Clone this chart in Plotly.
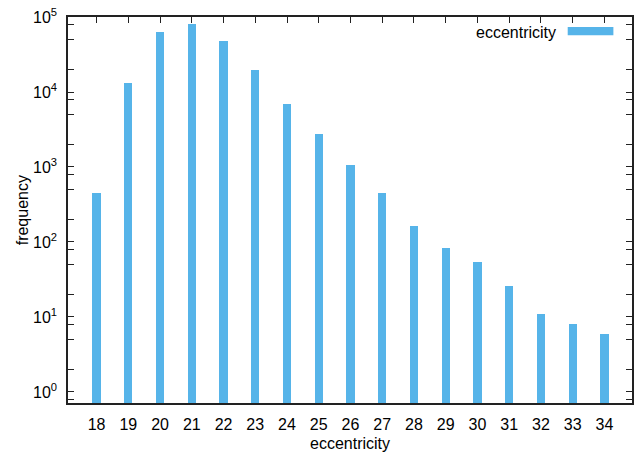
import plotly.graph_objects as go

categories = list(range(18, 35))
frequency = [450, 13300, 63900, 79900, 48500, 19500, 6850, 2730, 1050,
             450, 163, 82, 54, 26, 11, 8, 6]
series_name = "eccentricity"
x_title = "eccentricity"
y_title = "frequency"
y_major = [1, 10, 100, 1000, 10000, 100000]
y_major_text = ["10<sup>0</sup>", "10<sup>1</sup>", "10<sup>2</sup>",
                "10<sup>3</sup>", "10<sup>4</sup>", "10<sup>5</sup>"]
y_minor = [m * 10 ** k for k in range(-1, 5) for m in (2, 5, 8)]

color = "#56B4E9"
axis_color = "#222222"
font = "Liberation Sans, Arial, Helvetica, sans-serif"
xr = [17.1, 34.87]

fig = go.Figure()
fig.add_trace(go.Bar(
    x=categories, y=frequency, width=0.26,
    marker=dict(color=color, line=dict(width=0)),
    name=series_name, showlegend=False,
))
# invisible helper on the top axis so it carries mirrored ticks
fig.add_trace(go.Scatter(x=[categories[0]], y=[frequency[0]], xaxis="x2",
                         mode="markers", marker=dict(opacity=0),
                         showlegend=False, hoverinfo="skip"))

fig.update_layout(
    width=636, height=452,
    margin=dict(l=68, r=4, t=17, b=49),
    plot_bgcolor="white", paper_bgcolor="white",
    font=dict(family=font, size=16, color="black"),
    xaxis=dict(
        range=xr, tickmode="array", tickvals=categories,
        ticktext=[str(c) for c in categories],
        ticks="", automargin=False,
        showline=True, linecolor=axis_color, linewidth=1.5, mirror=True,
        showgrid=False, zeroline=False, ticklabelstandoff=6,
    ),
    xaxis2=dict(
        range=xr, overlaying="x", side="top", tickmode="array",
        tickvals=categories, showticklabels=False, automargin=False,
        ticks="inside", ticklen=6, tickwidth=1, tickcolor=axis_color,
        showline=False, showgrid=False, zeroline=False,
    ),
    yaxis=dict(
        type="log", range=[-0.147, 5.0], automargin=False,
        tickmode="array", tickvals=y_major, ticktext=y_major_text,
        ticks="inside", ticklen=6, tickwidth=1, tickcolor=axis_color,
        showline=True, linecolor=axis_color, linewidth=1.5, mirror="allticks",
        showgrid=False, zeroline=False,
        minor=dict(tickmode="array", tickvals=y_minor, ticks="inside",
                   ticklen=3, tickwidth=1, tickcolor=axis_color, showgrid=False),
        ticklabelstandoff=6,
    ),
    bargap=0,
)

# axis titles
fig.add_annotation(xref="paper", yref="paper", x=0.5, y=-0.105,
                   xanchor="center", yanchor="middle", text=x_title,
                   showarrow=False, font=dict(size=16, family=font))
fig.add_annotation(xref="paper", yref="paper", x=-0.081, y=0.5,
                   xanchor="center", yanchor="middle", text=y_title, textangle=-90,
                   showarrow=False, font=dict(size=16, family=font))

# legend (gnuplot style: text left of swatch)
fig.add_annotation(
    xref="paper", yref="paper", x=0.869, y=0.961, xanchor="right", yanchor="middle",
    text=series_name, showarrow=False, font=dict(size=16, family=font, color="black"),
)
fig.add_shape(
    type="rect", xref="paper", yref="paper",
    x0=0.886, x1=0.967, y0=0.953, y1=0.974,
    fillcolor=color, line=dict(width=0),
)

fig.write_html("out.html", config={"displayModeBar": False},
               post_script="document.body.style.margin='0px';document.body.style.overflow='hidden';")
